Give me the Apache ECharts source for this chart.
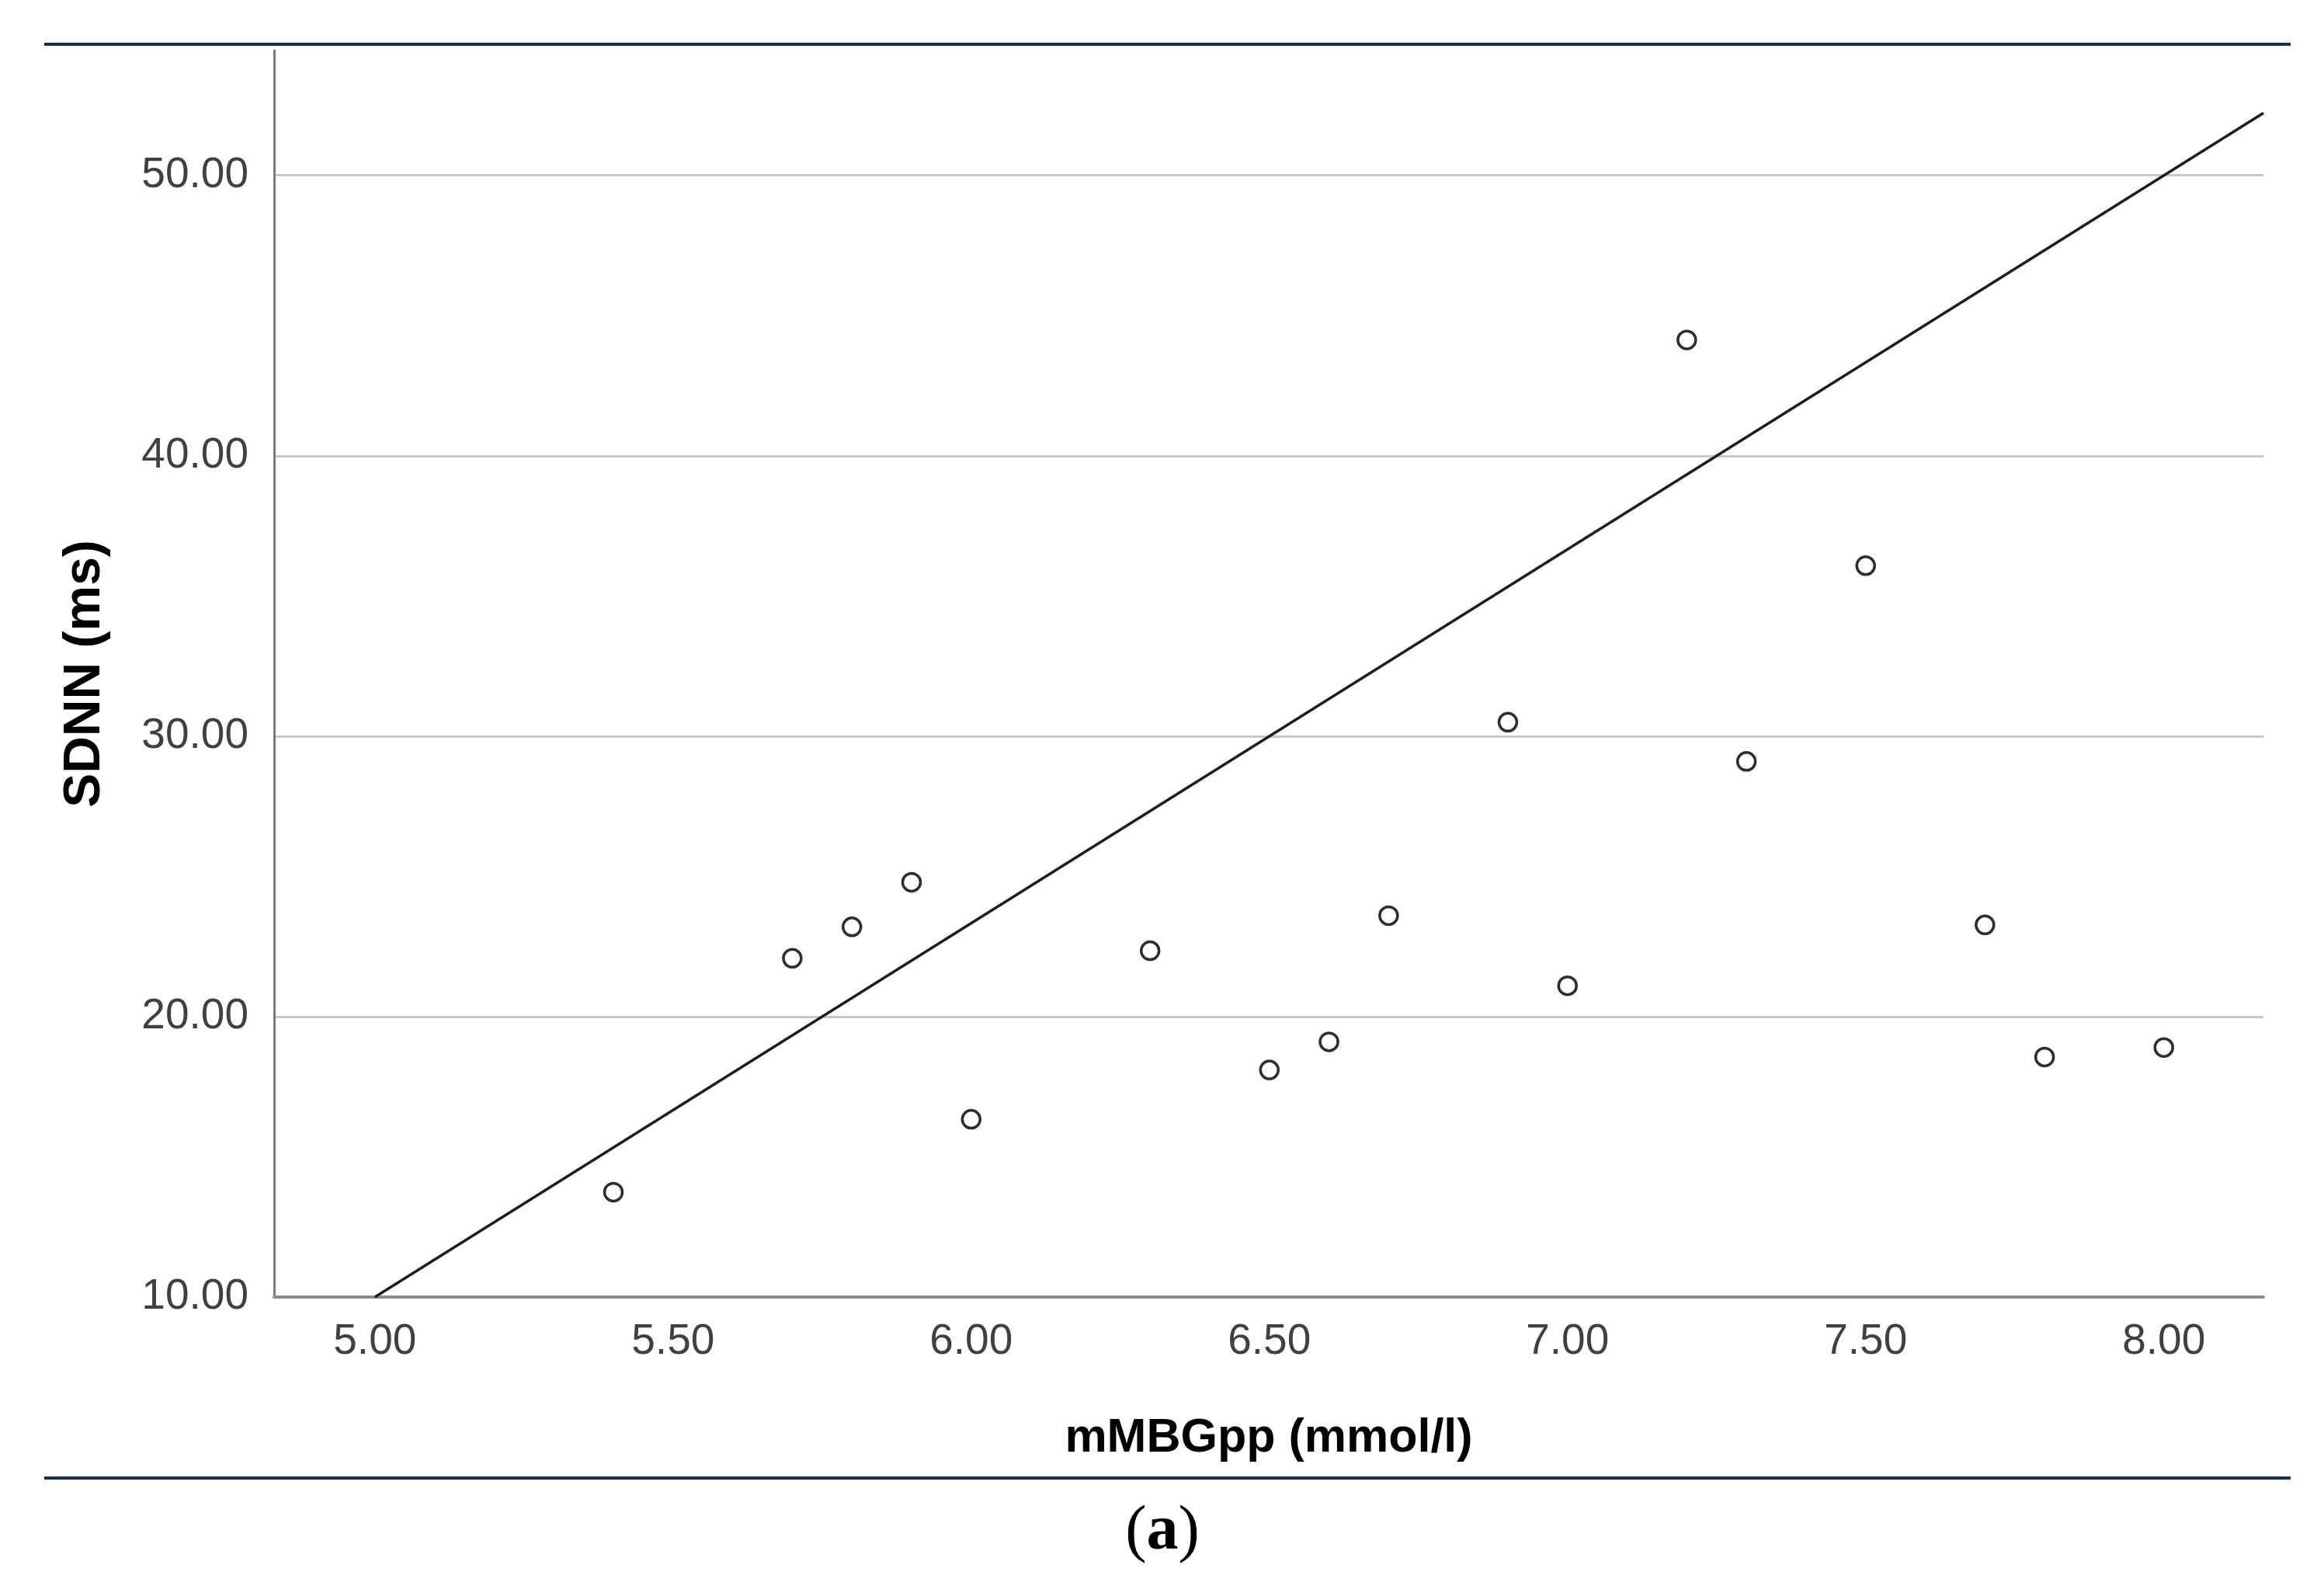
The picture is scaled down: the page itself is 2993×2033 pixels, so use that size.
<!DOCTYPE html>
<html>
<head>
<meta charset="utf-8">
<script src="https://cdn.jsdelivr.net/npm/echarts@6/dist/echarts.min.js"></script>
<style>
html,body{margin:0;padding:0;background:#fff;}
#chart{width:2993px;height:2033px;}
</style>
</head>
<body>
<div id="chart"></div>
<script>
// Data
const mMBGpp = [5.40, 5.70, 5.80, 5.90, 6.00, 6.30, 6.50, 6.60, 6.70, 6.90, 7.00, 7.20, 7.30, 7.50, 7.70, 7.80, 8.00];
const SDNN   = [13.74, 22.08, 23.20, 24.79, 16.34, 22.35, 18.10, 19.10, 23.60, 30.50, 21.10, 44.13, 29.10, 36.08, 23.27, 18.56, 18.90];
const fitLineX = [5.00, 8.167];
const fitLineY = [10.00, 52.22];
const xTickValues = [5.00, 5.50, 6.00, 6.50, 7.00, 7.50, 8.00];
const yTickValues = [10.00, 20.00, 30.00, 40.00, 50.00];
const xTitle = 'mMBGpp (mmol/l)';
const yTitle = 'SDNN (ms)';
const panelLabel = 'a';

const points = mMBGpp.map((x, i) => [x, SDNN[i]]);
const fitLine = fitLineX.map((x, i) => [x, fitLineY[i]]);

const tickFont = "'Liberation Sans Narrow','Arial Narrow','Liberation Sans',Arial,sans-serif";
const titleFont = "'Liberation Sans',Arial,sans-serif";

const chart = echarts.init(document.getElementById('chart'), null, {renderer: 'canvas'});
chart.setOption({
  backgroundColor: '#ffffff',
  animation: false,
  grid: {left: 353, right: 78, top: 65, bottom: 363, containLabel: false},
  xAxis: {
    type: 'value',
    min: 4.831,
    max: 8.167,
    name: xTitle,
    nameLocation: 'middle',
    nameGap: 152,
    nameTextStyle: {fontFamily: titleFont, fontSize: 61, color: '#000', fontWeight: 'bold'},
    axisLine: {show: true, onZero: false, lineStyle: {color: '#8c8c8c', width: 4}},
    axisTick: {show: false},
    splitLine: {show: false},
    axisLabel: {
      customValues: xTickValues,
      margin: 30,
      fontFamily: tickFont,
      fontSize: 55,
      color: '#404040',
      formatter: v => Number(v).toFixed(2)
    }
  },
  yAxis: {
    type: 'value',
    min: yTickValues[0],
    max: 54.45,
    interval: 10,
    name: yTitle,
    nameLocation: 'middle',
    nameGap: 210,
    nameTextStyle: {fontFamily: titleFont, fontSize: 66, color: '#000', fontWeight: 'bold'},
    axisLine: {show: true, onZero: false, lineStyle: {color: '#7a7a7a', width: 3}},
    axisTick: {show: false},
    splitLine: {show: true, showMinLine: false, showMaxLine: false, lineStyle: {color: '#c8c8c8', width: 3}},
    axisLabel: {
      showMaxLabel: false,
      margin: 33,
      fontFamily: tickFont,
      fontSize: 55,
      color: '#404040',
      formatter: v => Number(v).toFixed(2)
    }
  },
  series: [
    {
      type: 'line',
      data: fitLine,
      symbol: 'none',
      lineStyle: {color: '#1e1e1e', width: 3.5},
      silent: true,
      z: 2
    },
    {
      type: 'scatter',
      data: points,
      symbol: 'circle',
      symbolSize: 23,
      itemStyle: {color: '#ffffff', borderColor: '#2e2e2e', borderWidth: 3.5, opacity: 1},
      z: 3
    }
  ],
  graphic: [
    {type: 'line', shape: {x1: 57, y1: 57, x2: 2950, y2: 57}, style: {stroke: '#17304d', lineWidth: 4}},
    {type: 'line', shape: {x1: 57, y1: 1903, x2: 2950, y2: 1903}, style: {stroke: '#17304d', lineWidth: 4}},
    {
      type: 'text', x: 1497, y: 1973,
      style: {
        rich: {
          p: {fontFamily: "'Liberation Serif','Times New Roman',serif", fontSize: 82, fontWeight: 'normal', fill: '#000'},
          b: {fontFamily: "'Liberation Serif','Times New Roman',serif", fontSize: 82, fontWeight: 'bold', fill: '#000'}
        },
        text: '{p|(}{b|' + panelLabel + '}{p|)}',
        align: 'center', verticalAlign: 'middle'
      }
    }
  ]
});
</script>
</body>
</html>
